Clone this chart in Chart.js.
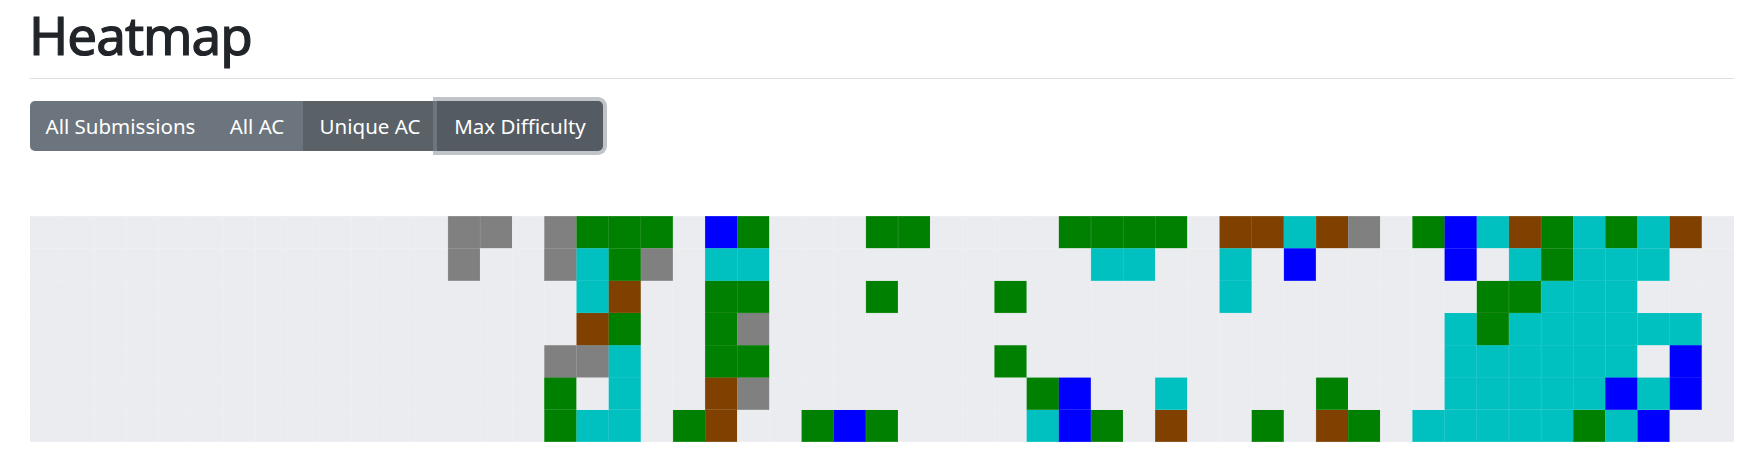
<!DOCTYPE html>
<html>
<head>
<meta charset="utf-8">
<title>Heatmap</title>
<script src="https://cdn.jsdelivr.net/npm/chart.js@4/dist/chart.umd.min.js"></script>
<style>
    body {
        margin: 0;
        background: #fff;
        font-family: "Noto Sans", "Open Sans", sans-serif;
        color: #212529;
    }
    h1 {
        position: absolute;
        left: 29px;
        top: 8px;
        margin: 0;
        font-size: 53px;
        font-weight: 400;
        line-height: 1;
        letter-spacing: -1px;
        -webkit-text-stroke: 1.2px #212529;
    }
    .rule {
        position: absolute;
        left: 30px;
        top: 78px;
        width: 1704px;
        height: 1px;
        background: #dfe0e6;
    }
    .btn-group {
        position: absolute;
        left: 30px;
        top: 101px;
        height: 50px;
        display: flex;
    }
    .btn {
        height: 50px;
        line-height: 50px;
        text-align: center;
        color: #fff;
        font-size: 20.5px;
        background: #6c757d;
        white-space: nowrap;
    }
    .btn.first { width: 181px; border-radius: 5px 0 0 5px; }
    .btn.second { width: 92px; }
    .btn.third { width: 134px; background: #5a6268; }
    .btn.active {
        width: 166px;
        background: #545b62;
        border-radius: 0 5px 5px 0;
        box-shadow: 0 0 0 4px rgba(130, 138, 145, 0.5);
        position: relative;
    }
    .chart-box {
        position: absolute;
        left: 30px;
        top: 216px;
        width: 1704px;
        height: 226px;
    }
</style>
</head>
<body>
<h1>Heatmap</h1>
<div class="rule"></div>
<div class="btn-group">
    <div class="btn first">All Submissions</div>
    <div class="btn second">All AC</div>
    <div class="btn third">Unique AC</div>
    <div class="btn active">Max Difficulty</div>
</div>
<div class="chart-box"><canvas id="heatmapChart"></canvas></div>

<script>
// difficulty level per day: 0 = nothing, 1 gray, 2 brown, 3 green, 4 cyan, 5 blue
const dayNames = ['Sun', 'Mon', 'Tue', 'Wed', 'Thu', 'Fri', 'Sat'];
const levelNames = ['None', 'Gray', 'Brown', 'Green', 'Cyan', 'Blue'];
const levelColors = ['#ebecf0', '#808080', '#804000', '#008000', '#00c0c0', '#0000ff'];

const sun = [0,0,0,0,0,0,0,0,0,0,0,0,0,1,1,0,1,3,3,3,0,5,3,0,0,0,3,3,0,0,0,0,3,3,3,3,0,2,2,4,2,1,0,3,5,4,2,3,4,3,4,2,0];
const mon = [0,0,0,0,0,0,0,0,0,0,0,0,0,1,0,0,1,4,3,1,0,4,4,0,0,0,0,0,0,0,0,0,0,4,4,0,0,4,0,5,0,0,0,0,5,0,4,3,4,4,4,0,0];
const tue = [0,0,0,0,0,0,0,0,0,0,0,0,0,0,0,0,0,4,2,0,0,3,3,0,0,0,3,0,0,0,3,0,0,0,0,0,0,4,0,0,0,0,0,0,0,3,3,4,4,4,0,0,0];
const wed = [0,0,0,0,0,0,0,0,0,0,0,0,0,0,0,0,0,2,3,0,0,3,1,0,0,0,0,0,0,0,0,0,0,0,0,0,0,0,0,0,0,0,0,0,4,3,4,4,4,4,4,4,0];
const thu = [0,0,0,0,0,0,0,0,0,0,0,0,0,0,0,0,1,1,4,0,0,3,3,0,0,0,0,0,0,0,3,0,0,0,0,0,0,0,0,0,0,0,0,0,4,4,4,4,4,4,0,5,0];
const fri = [0,0,0,0,0,0,0,0,0,0,0,0,0,0,0,0,3,0,4,0,0,2,1,0,0,0,0,0,0,0,0,3,5,0,0,4,0,0,0,0,3,0,0,0,4,4,4,4,4,5,4,5,0];
const sat = [0,0,0,0,0,0,0,0,0,0,0,0,0,0,0,0,3,4,4,0,3,2,0,0,3,5,3,0,0,0,0,4,5,3,0,2,0,0,3,0,2,3,0,4,4,4,4,4,3,4,5,0,0];

const weekLabels = sun.map((_, i) => 'Week ' + (i + 1));

(function () {
    document.addEventListener('DOMContentLoaded', function () {
        const rows = [sun, mon, tue, wed, thu, fri, sat];

        function withAlpha(hex, a) {
            const r = parseInt(hex.slice(1, 3), 16);
            const g = parseInt(hex.slice(3, 5), 16);
            const b = parseInt(hex.slice(5, 7), 16);
            return 'rgba(' + r + ',' + g + ',' + b + ',' + a + ')';
        }

        const ctx = document.getElementById('heatmapChart').getContext('2d');
        new Chart(ctx, {
            type: 'bar',
            data: {
                labels: weekLabels,
                datasets: rows.map((levels, d) => ({
                    label: dayNames[d],
                    data: levels.map(() => 1),
                    levels: levels,
                    backgroundColor: c => levelColors[levels[c.dataIndex]],
                    borderColor: c => withAlpha(levelColors[levels[c.dataIndex]], 0.65),
                    borderWidth: 0.5,
                    borderSkipped: false,
                    barPercentage: 1,
                    categoryPercentage: 1
                }))
            },
            options: {
                responsive: true,
                maintainAspectRatio: false,
                animation: false,
                layout: { padding: 0 },
                plugins: {
                    legend: { display: false },
                    tooltip: {
                        callbacks: {
                            label: c => c.dataset.label + ': ' + levelNames[c.dataset.levels[c.dataIndex]]
                        }
                    }
                },
                scales: {
                    x: {
                        stacked: true,
                        display: false
                    },
                    y: {
                        stacked: true,
                        display: false,
                        reverse: true,
                        min: 0,
                        max: 7
                    }
                }
            }
        });
    });
})();
</script>
</body>
</html>
